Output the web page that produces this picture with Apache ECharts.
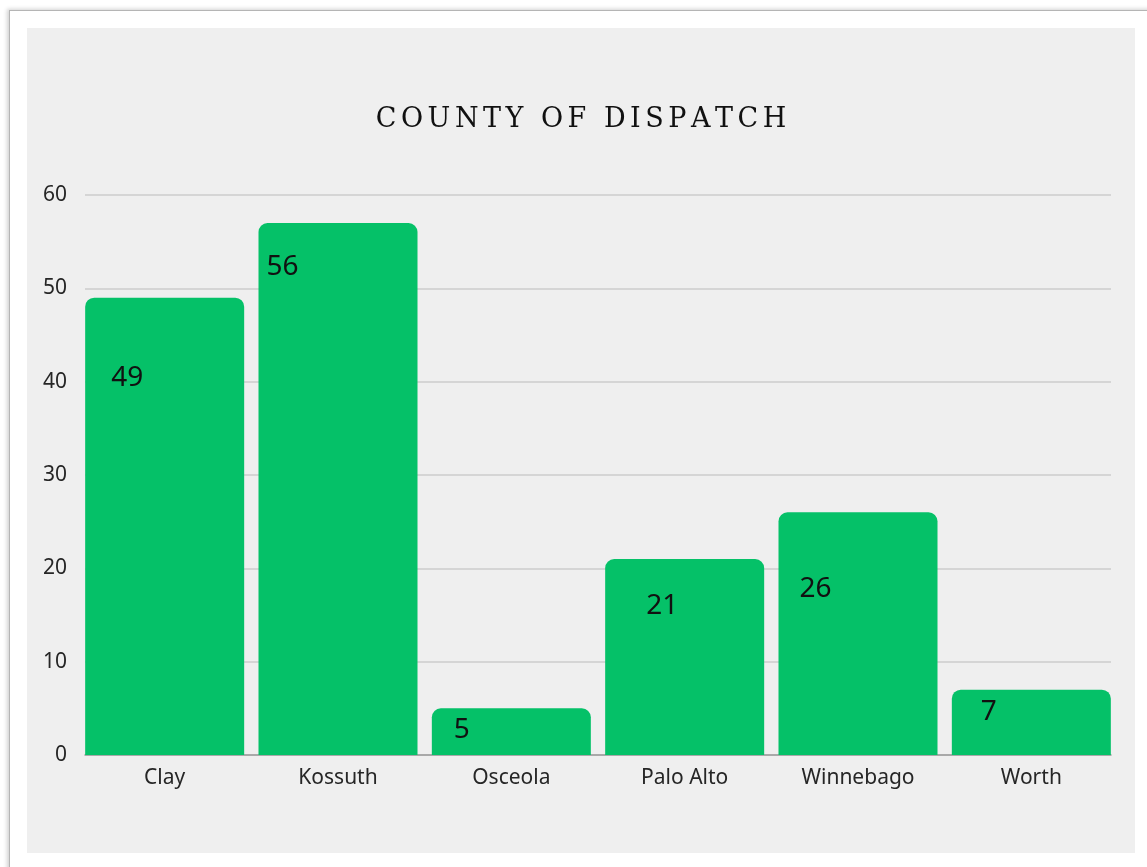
<!DOCTYPE html>
<html>
<head>
<meta charset="utf-8">
<title>County of Dispatch</title>
<script src="https://cdn.jsdelivr.net/npm/echarts@6/dist/echarts.min.js"></script>
<style>
  html, body { margin: 0; padding: 0; background: #fff; width: 1147px; height: 867px; overflow: hidden; }
  .card {
    position: absolute; left: 9px; top: 10px; width: 1160px; height: 880px;
    background: #fff; border-left: 1px solid #b5b5b5; border-top: 1px solid #b5b5b5;
    box-shadow: -2px -1px 4px rgba(0,0,0,0.18);
  }
  #chart { position: absolute; left: 27px; top: 28px; width: 1108px; height: 825px; background: #efefef; }
</style>
</head>
<body>
<div class="card"></div>
<div id="chart"></div>
<script>
// chart data
const counties = ['Clay', 'Kossuth', 'Osceola', 'Palo Alto', 'Winnebago', 'Worth']
const dispatches = [49, 57, 5, 21, 26, 7]
const labelTexts = ['49', '56', '5', '21', '26', '7']
const yTicks = [0, 10, 20, 30, 40, 50, 60]

// where each number sits inside its bar (offset from bar top-left)
const labelOffsets = [[42, 80], [24, 44], [30, 22], [57, 47], [37, 77], [37, 22]]

const myChart = echarts.init(document.getElementById('chart'))

const option = {
  animation: false,
  title: {
    text: 'COUNTY OF DISPATCH'.split('').join('\u2006'),
    left: 'center',
    top: 73,
    textStyle: {
      fontFamily: 'DejaVu Serif',
      fontWeight: 'normal',
      fontSize: 27,
      color: '#111'
    }
  },
  grid: [
    // grid for the value axis, split lines and baseline
    { left: 58, top: 167, width: 1026, height: 560 },
    // grid for the bars and their category labels
    { left: 51, top: 167, width: 1040, height: 560 }
  ],
  xAxis: [
    {
      gridIndex: 0,
      type: 'category',
      data: counties,
      axisLine: { show: true, lineStyle: { color: '#9a9a9a', width: 1.5 } },
      axisTick: { show: false },
      axisLabel: { show: false }
    },
    {
      gridIndex: 1,
      type: 'category',
      data: counties,
      axisLine: { show: false },
      axisTick: { show: false },
      axisLabel: {
        margin: 13,
        fontFamily: 'Noto Sans',
        fontSize: 21,
        color: '#262626'
      }
    }
  ],
  yAxis: [
    {
      gridIndex: 0,
      type: 'value',
      min: yTicks[0],
      max: yTicks[yTicks.length - 1],
      interval: 10,
      axisLine: { show: false },
      axisTick: { show: false },
      // 坐标轴刻度标签
      axisLabel: {
        margin: 18,
        fontFamily: 'Noto Sans',
        fontSize: 21,
        color: '#262626',
        padding: [3, 0, 0, 0]
      },
      splitLine: { show: true, lineStyle: { color: '#cdcdcd', width: 1.5 } }
    },
    {
      gridIndex: 1,
      type: 'value',
      min: yTicks[0],
      max: yTicks[yTicks.length - 1],
      interval: 10,
      show: false,
      splitLine: { show: false }
    }
  ],
  series: [
    {
      type: 'bar',
      xAxisIndex: 1,
      yAxisIndex: 1,
      barWidth: 159,
      data: dispatches.map((v, i) => ({
        value: v,
        label: { position: labelOffsets[i] }
      })),
      itemStyle: { color: '#05c168', borderRadius: [9, 9, 0, 0] },
      label: {
        show: true,
        align: 'center',
        verticalAlign: 'middle',
        fontFamily: 'Noto Sans',
        fontSize: 28,
        color: '#111',
        formatter: (p) => labelTexts[p.dataIndex]
      }
    }
  ]
}
myChart.setOption(option)
</script>
</body>
</html>
